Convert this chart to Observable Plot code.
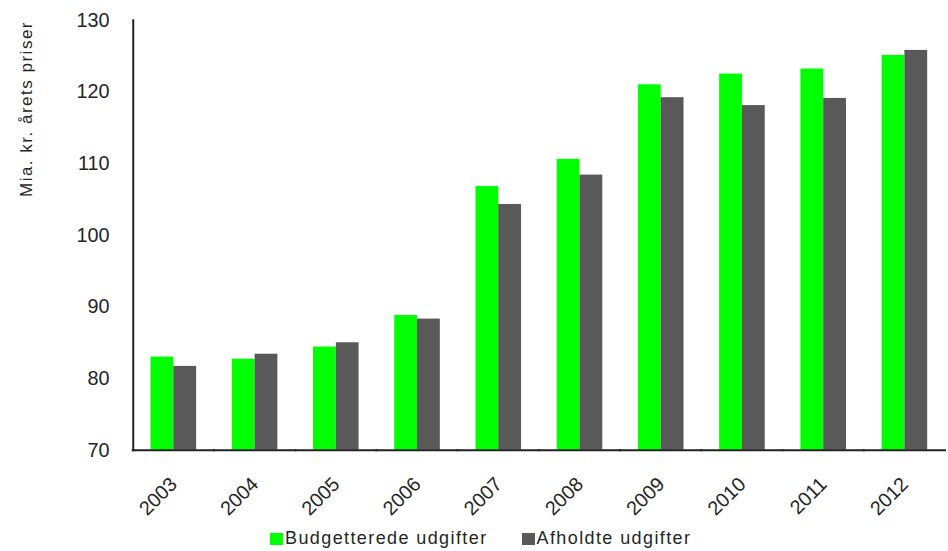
<!DOCTYPE html>
<html><head><meta charset="utf-8">
<script src="https://cdn.jsdelivr.net/npm/d3@7"></script>
<script src="https://cdn.jsdelivr.net/npm/@observablehq/plot@0.6"></script>
<style>
body{margin:0;background:#fff;font-family:"Liberation Sans",Arial,sans-serif;}
#wrap{position:relative;width:948px;height:551px;overflow:hidden;background:#fff;}
#chart{position:absolute;left:0;top:0;}
#ylabel{position:absolute;left:27px;top:109px;transform:translate(-50%,-50%) rotate(-90deg);white-space:nowrap;font-size:17px;letter-spacing:1.5px;color:#262626;}
#legend{position:absolute;top:528px;left:270px;display:flex;align-items:center;font-size:18px;letter-spacing:1.4px;color:#262626;white-space:nowrap;}
#legend .item{display:flex;align-items:center;}
#legend .sw{display:inline-block;width:13px;height:12px;margin-right:2px;}
</style></head><body>
<div id="wrap"><div id="chart"></div><div id="ylabel">Mia. kr. årets priser</div><div id="legend"></div></div>
<script>
const years = ["2003","2004","2005","2006","2007","2008","2009","2010","2011","2012"];
const series = ["Budgetterede udgifter","Afholdte udgifter"];
const budgetterede = [83.0, 82.7, 84.4, 88.8, 106.8, 110.6, 121.0, 122.5, 123.2, 125.1];
const afholdte = [81.7, 83.4, 85.0, 88.3, 104.3, 108.4, 119.2, 118.1, 119.1, 125.8];
const colors = ["#00ff00","#595959"];
const yTicks = [70, 80, 90, 100, 110, 120, 130];

const data = years.flatMap((yr, i) => [
  {year: yr, series: series[0], value: budgetterede[i]},
  {year: yr, series: series[1], value: afholdte[i]}
]);

const chart = Plot.plot({
  width: 957, height: 519,
  marginLeft: 131, marginRight: 0, marginTop: 20, marginBottom: 65,
  style: {fontFamily: '"Liberation Sans", Arial, sans-serif', color: "#262626", background: "white", overflow: "visible"},
  fx: {domain: years, padding: 0, label: null},
  x: {domain: series, paddingInner: 0, paddingOuter: 0.71, axis: null},
  y: {domain: [yTicks[0], yTicks[yTicks.length - 1]], label: null},
  color: {domain: series, range: colors},
  marks: [
    Plot.barY(data, {fx: "year", x: "series", y1: yTicks[0], y2: "value", fill: "series"}),
    Plot.axisY(yTicks, {tickSize: 0, tickPadding: 24, fontSize: 20, label: null}),
    Plot.axisFx({anchor: "bottom", tickRotate: -45, tickSize: 0, tickPadding: 31, fontSize: 20, label: null}),
    Plot.frame({anchor: "left", facetAnchor: "left", stroke: "#222", strokeWidth: 2}),
    Plot.ruleY([yTicks[0]], {stroke: "#222", strokeWidth: 2, strokeLinecap: "square"})
  ]
});
document.getElementById("chart").appendChild(chart);

const legend = document.getElementById("legend");
series.forEach((s, i) => {
  const item = document.createElement("span");
  item.className = "item";
  item.style.marginRight = i === 0 ? "34px" : "0";
  const sw = document.createElement("span");
  sw.className = "sw";
  sw.style.background = colors[i];
  const t = document.createElement("span");
  t.textContent = s;
  item.appendChild(sw); item.appendChild(t);
  legend.appendChild(item);
});
</script>
</body></html>
